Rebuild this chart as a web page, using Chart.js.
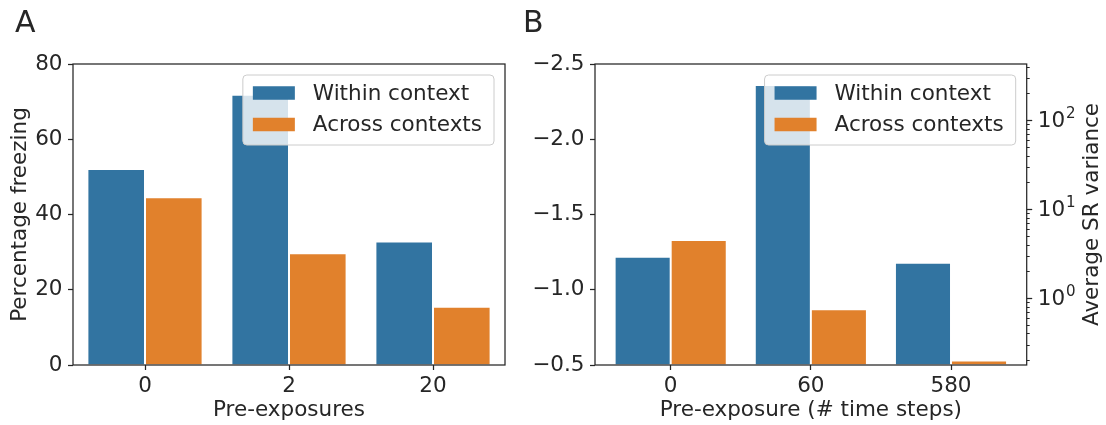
<!DOCTYPE html>
<html>
<head>
<meta charset="utf-8">
<script src="https://cdn.jsdelivr.net/npm/chart.js@4.4.0/dist/chart.umd.min.js"></script>
<style>
  body { margin: 0; background: #fff; }
  #wrap { position: relative; width: 1106px; height: 425px; overflow: hidden; }
  canvas { position: absolute; top: 0; }
</style>
</head>
<body>
<div id="wrap">
  <canvas id="chartA" width="540" height="425" style="left:0px"></canvas>
  <canvas id="chartB" width="606" height="425" style="left:500px"></canvas>
</div>
<script>
const seriesNames = ['Within context', 'Across contexts'];
const seriesColors = ['#3274a1', '#e1812c'];

// Panel A: percentage freezing
const preExposures = ['0', '2', '20'];
const freezingWithin = [52.1, 71.8, 32.8];
const freezingAcross = [44.6, 29.7, 15.5];
const freezingTicks = [0, 20, 40, 60, 80];

// Panel B: SR variance
const timeSteps = ['0', '60', '580'];
const srWithin = [-1.22, -2.36, -1.18];
const srAcross = [-1.33, -0.87, -0.53];
const leftTicksB = [-2.5, -2.0, -1.5, -1.0, -0.5];
const varianceTicks = [1, 10, 100];
const varianceExponents = ['0', '1', '2'];
const varianceMinor = [0.2, 0.3, 0.4, 0.5, 0.6, 0.7, 0.8, 0.9,
  2, 3, 4, 5, 6, 7, 8, 9, 20, 30, 40, 50, 60, 70, 80, 90, 200, 300, 400];

const ink = '#262626';
const fontSize = 21.5;
Chart.defaults.font.family = "'DejaVu Sans'";
Chart.defaults.font.size = fontSize;
Chart.defaults.color = ink;

function makeDatasets(within, across, base) {
  return [within, across].map(function(vals, i) {
    const ds = {
      label: seriesNames[i],
      data: vals.map(function(v, k) { return {x: k, y: v}; }),
      backgroundColor: seriesColors[i],
      borderColor: '#ffffff',
      borderWidth: 1,
      barPercentage: 1,
      categoryPercentage: 0.8
    };
    if (base !== undefined) ds.base = base;
    return ds;
  });
}

function roundRectPath(ctx, x, y, w, h, r) {
  ctx.beginPath();
  ctx.moveTo(x + r, y);
  ctx.lineTo(x + w - r, y);
  ctx.arcTo(x + w, y, x + w, y + r, r);
  ctx.lineTo(x + w, y + h - r);
  ctx.arcTo(x + w, y + h, x + w - r, y + h, r);
  ctx.lineTo(x + r, y + h);
  ctx.arcTo(x, y + h, x, y + h - r, r);
  ctx.lineTo(x, y + r);
  ctx.arcTo(x, y, x + r, y, r);
  ctx.closePath();
}

// spines, legend box and panel letter, drawn like matplotlib does
const framePlugin = {
  id: 'frame',
  afterDatasetsDraw(chart, args, opts) {
    const ctx = chart.ctx;
    const a = chart.chartArea;
    ctx.save();
    ctx.strokeStyle = ink;
    ctx.lineWidth = 1.25;
    ctx.strokeRect(a.left, a.top, a.right - a.left, a.bottom - a.top);

    ctx.font = fontSize + "px 'DejaVu Sans'";
    const textW = Math.max.apply(null, seriesNames.map(function(s) { return ctx.measureText(s).width; }));
    const w = 70 + textW + 12, h = 70;
    const x = a.right - 11 - w, y = a.top + 11;
    roundRectPath(ctx, x, y, w, h, 4);
    ctx.fillStyle = 'rgba(255,255,255,0.8)';
    ctx.fill();
    ctx.strokeStyle = '#cccccc';
    ctx.lineWidth = 1;
    ctx.stroke();
    chart.data.datasets.forEach(function(ds, i) {
      const cy = y + 18 + i * 31.5;
      ctx.fillStyle = ds.backgroundColor;
      ctx.fillRect(x + 10, cy - 6.75, 42, 13.5);
      ctx.fillStyle = ink;
      ctx.textBaseline = 'middle';
      ctx.textAlign = 'left';
      ctx.fillText(ds.label, x + 70, cy + 1);
    });

    ctx.font = "30px 'DejaVu Sans'";
    ctx.textBaseline = 'alphabetic';
    ctx.fillText(opts.letter, opts.letterX, 32);

    if (opts.rightTitle) {
      const s = chart.scales.y2;
      ctx.strokeStyle = ink;
      ctx.lineWidth = 1;
      varianceMinor.forEach(function(v) {
        const py = Math.round(s.getPixelForValue(v)) + 0.5;
        ctx.beginPath();
        ctx.moveTo(a.right, py);
        ctx.lineTo(a.right + 3, py);
        ctx.stroke();
      });
      // log tick labels as 10 with a raised exponent
      ctx.fillStyle = ink;
      ctx.textAlign = 'left';
      ctx.textBaseline = 'alphabetic';
      varianceTicks.forEach(function(v, i) {
        const py = s.getPixelForValue(v);
        const lx = a.right + 11;
        ctx.font = fontSize + "px 'DejaVu Sans'";
        ctx.fillText('10', lx, py + 7);
        const bw = ctx.measureText('10').width;
        ctx.font = (fontSize * 0.7) + "px 'DejaVu Sans'";
        ctx.fillText(varianceExponents[i], lx + bw + 1, py - 2);
      });
      ctx.font = fontSize + "px 'DejaVu Sans'";
      ctx.translate(opts.rightTitleX, (a.top + a.bottom) / 2);
      ctx.rotate(-Math.PI / 2);
      ctx.textAlign = 'center';
      ctx.textBaseline = 'middle';
      ctx.fillText(opts.rightTitle, 0, 0);
    }
    ctx.restore();
  }
};

function xScale(labels, lo, hi, title) {
  return {
    type: 'linear', min: lo, max: hi, offset: false,
    afterBuildTicks: function(s) { s.ticks = labels.map(function(_, k) { return {value: k}; }); },
    ticks: { callback: function(v) { return labels[v]; }, autoSkip: false, maxRotation: 0, padding: 4 },
    grid: { drawOnChartArea: false, offset: false, tickLength: 5, tickColor: ink, tickWidth: 1.25 },
    border: { display: false },
    title: { display: true, text: title, padding: {top: 0, bottom: 2} },
    afterFit: function(s) { s.height = 60; }
  };
}

const baseOptions = {
  responsive: false,
  animation: false,
  devicePixelRatio: 1,
  plugins: { legend: { display: false }, tooltip: { enabled: false } }
};

new Chart(document.getElementById('chartA'), {
  type: 'bar',
  data: { datasets: makeDatasets(freezingWithin, freezingAcross) },
  plugins: [framePlugin],
  options: Object.assign({}, baseOptions, {
    layout: { padding: { top: 64, right: 35, left: 0, bottom: 0 } },
    plugins: Object.assign({}, baseOptions.plugins, { frame: { letter: 'A', letterX: 15 } }),
    scales: {
      x: xScale(preExposures, -0.5, 2.5, 'Pre-exposures'),
      y: {
        min: 0, max: 80,
        afterBuildTicks: function(s) { s.ticks = freezingTicks.map(function(v) { return {value: v}; }); },
        ticks: { padding: 5.5 },
        grid: { drawOnChartArea: false, tickLength: 5, tickColor: ink, tickWidth: 1.25 },
        border: { display: false },
        title: { display: true, text: 'Percentage freezing', padding: {top: 8, bottom: 0} },
        afterFit: function(s) { s.width = 73; }
      }
    }
  })
});

new Chart(document.getElementById('chartB'), {
  type: 'bar',
  data: { datasets: makeDatasets(srWithin, srAcross, -0.5) },
  plugins: [framePlugin],
  options: Object.assign({}, baseOptions, {
    layout: { padding: { top: 64, right: 0, left: 0, bottom: 0 } },
    plugins: Object.assign({}, baseOptions.plugins, {
      frame: { letter: 'B', letterX: 23, rightTitle: 'Average SR variance', rightTitleX: 592 }
    }),
    scales: {
      x: xScale(timeSteps, -0.54, 2.54, 'Pre-exposure (# time steps)'),
      y: {
        position: 'left', min: -2.5, max: -0.5, reverse: true,
        afterBuildTicks: function(s) { s.ticks = leftTicksB.map(function(v) { return {value: v}; }); },
        ticks: { padding: 5.5, callback: function(v) { return (v < 0 ? '\u2212' : '') + Math.abs(v).toFixed(1); } },
        grid: { drawOnChartArea: false, tickLength: 5, tickColor: ink, tickWidth: 1.25 },
        border: { display: false },
        afterFit: function(s) { s.width = 95; }
      },
      y2: {
        type: 'logarithmic', position: 'right', min: 0.177, max: 427,
        afterBuildTicks: function(s) {
          s.ticks = varianceTicks.map(function(v) { return {value: v}; });
        },
        ticks: { padding: 4, callback: function() { return ''; } },
        grid: { drawOnChartArea: false, tickLength: 5.5, tickColor: ink, tickWidth: 1.25 },
        border: { display: false },
        afterFit: function(s) { s.width = 79.3; }
      }
    }
  })
});
</script>
</body>
</html>
